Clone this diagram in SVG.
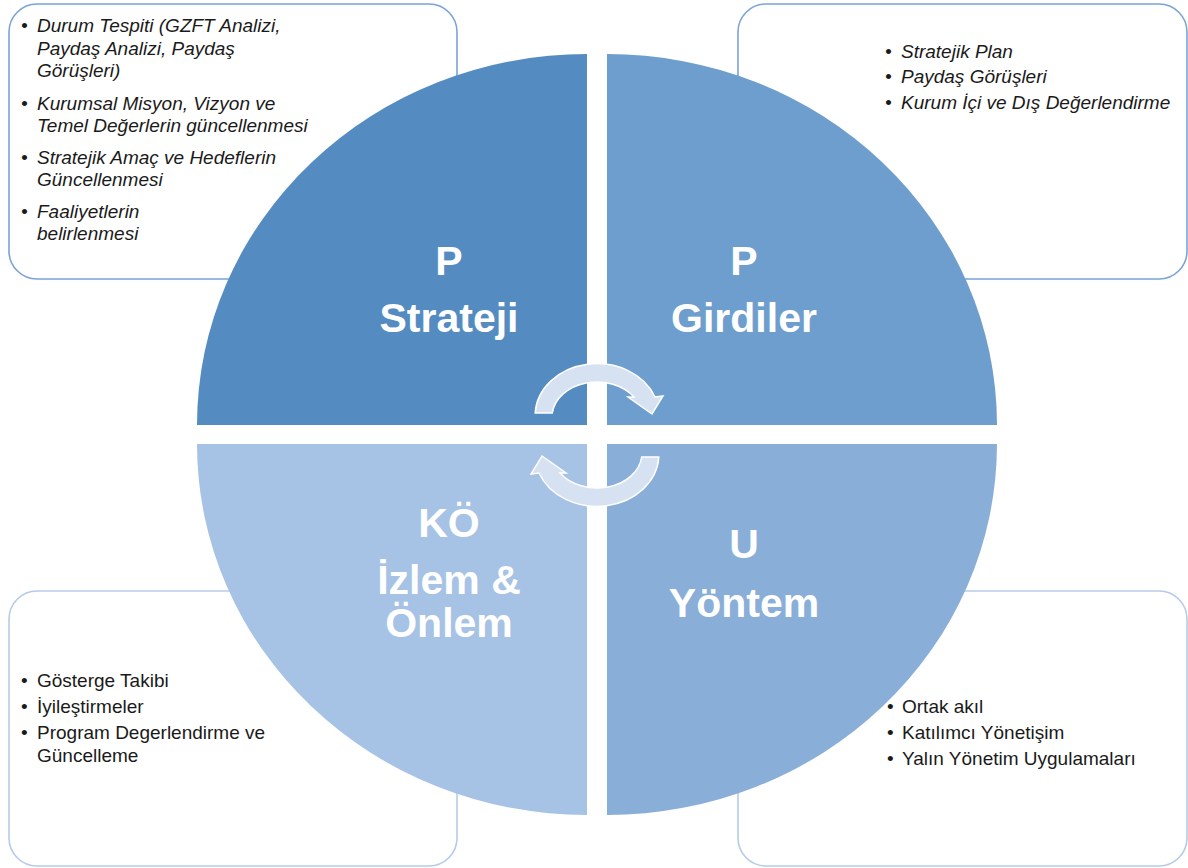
<svg xmlns="http://www.w3.org/2000/svg" width="1188" height="868" viewBox="0 0 1188 868">
<style>
.box{fill:#fff;stroke-width:1.6}
.top{stroke:#7aa3d6}
.bot{stroke:#b6cbe8}
.it{font-family:"Liberation Sans",Arial,sans-serif;font-style:italic;font-size:19px;fill:#1a1a1a}
.rg{font-family:"Liberation Sans",Arial,sans-serif;font-size:19px;fill:#1a1a1a}
.lbl{font-family:"Liberation Sans",Arial,sans-serif;font-weight:bold;font-size:41px;fill:#fff;text-anchor:middle}
.arr{fill:#d6e1f1;stroke:#fff;stroke-width:1.5;stroke-linejoin:miter}
</style>
<rect width="1188" height="868" fill="#fff"/>
<g id="box-tl">
<rect class="box top" x="9" y="4" width="448" height="275" rx="28"/>
<text class="it"><tspan x="21" y="32">•</tspan><tspan x="37" y="32">Durum Tespiti (GZFT Analizi,</tspan><tspan x="37" y="55">Paydaş Analizi, Paydaş</tspan><tspan x="37" y="77">Görüşleri)</tspan><tspan x="21" y="110">•</tspan><tspan x="37" y="110">Kurumsal Misyon, Vizyon ve</tspan><tspan x="37" y="132">Temel Değerlerin güncellenmesi</tspan><tspan x="21" y="164">•</tspan><tspan x="37" y="164">Stratejik Amaç ve Hedeflerin</tspan><tspan x="37" y="186">Güncellenmesi</tspan><tspan x="21" y="218">•</tspan><tspan x="37" y="218">Faaliyetlerin</tspan><tspan x="37" y="240">belirlenmesi</tspan></text>
</g>
<g id="box-tr">
<rect class="box top" x="738" y="4" width="449" height="275" rx="28"/>
<text class="it"><tspan x="885" y="58">•</tspan><tspan x="901" y="58">Stratejik Plan</tspan><tspan x="885" y="83">•</tspan><tspan x="901" y="83">Paydaş Görüşleri</tspan><tspan x="885" y="109">•</tspan><tspan x="901" y="109">Kurum İçi ve Dış Değerlendirme</tspan></text>
</g>
<g id="box-bl">
<rect class="box bot" x="9" y="591" width="448" height="275" rx="28"/>
<text class="rg"><tspan x="21" y="687">•</tspan><tspan x="37" y="687">Gösterge Takibi</tspan><tspan x="21" y="713">•</tspan><tspan x="37" y="713">İyileştirmeler</tspan><tspan x="21" y="739">•</tspan><tspan x="37" y="739">Program Degerlendirme ve</tspan><tspan x="37" y="762">Güncelleme</tspan></text>
</g>
<g id="box-br">
<rect class="box bot" x="738" y="591" width="449" height="275" rx="28"/>
<text class="rg"><tspan x="887" y="713">•</tspan><tspan x="902" y="713">Ortak akıl</tspan><tspan x="887" y="739">•</tspan><tspan x="902" y="739">Katılımcı Yönetişim</tspan><tspan x="887" y="765">•</tspan><tspan x="902" y="765">Yalın Yönetim Uygulamaları</tspan></text>
</g>
<g id="q-strateji">
<path d="M587,425 L197,425 A390 371 0 0 1 587,54 Z" fill="#548cc2"/>
<text class="lbl"><tspan x="449" y="275">P</tspan><tspan x="449" y="332">Strateji</tspan></text>
</g>
<g id="q-girdiler">
<path d="M607,425 L607,54 A390 371 0 0 1 997,425 Z" fill="#6d9ecd"/>
<text class="lbl"><tspan x="744" y="275">P</tspan><tspan x="744" y="332">Girdiler</tspan></text>
</g>
<g id="q-yontem">
<path d="M607,444 L997,444 A390 371 0 0 1 607,815 Z" fill="#89aed8"/>
<text class="lbl"><tspan x="744" y="558">U</tspan><tspan x="744" y="617">Yöntem</tspan></text>
</g>
<g id="q-izlem">
<path d="M587,444 L587,815 A390 371 0 0 1 197,444 Z" fill="#a6c2e4"/>
<text class="lbl"><tspan x="449" y="537">KÖ</tspan><tspan x="449" y="594">İzlem &amp;</tspan><tspan x="449" y="637">Önlem</tspan></text>
</g>
<g id="connectors">
<path id="arrow-top" class="arr" d="M535.2,413 A62 52 0 0 1 655,397 L663,396 L652,414 L628,397 L634,397 A45 35 0 0 0 552.3,413 Z"/>
<path id="arrow-bottom" class="arr" d="M535.2,413 A62 52 0 0 1 655,397 L663,396 L652,414 L628,397 L634,397 A45 35 0 0 0 552.3,413 Z" transform="rotate(180 597 435)"/>
</g>
</svg>
